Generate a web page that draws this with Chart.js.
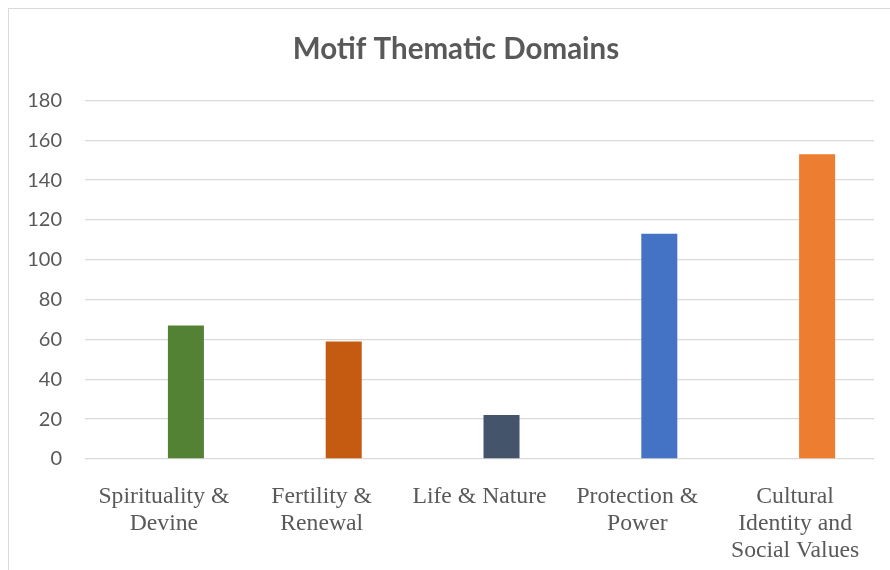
<!DOCTYPE html>
<html lang="en">
<head>
  <meta charset="UTF-8" />
  <title>Motif Thematic Domains</title>
  <script src="https://cdn.jsdelivr.net/npm/chart.js"></script>
  <style>
    body {
      margin: 0;
      background: #ffffff;
      overflow: hidden;
    }

    /* chart area frame, its right and bottom edges run off the page */
    .frame {
      position: absolute;
      left: 8px;
      top: 8px;
      width: 900px;
      height: 600px;
      border: 1px solid #d9d9d9;
    }

    .chart-box {
      position: absolute;
      left: 0;
      top: 0;
      width: 890px;
      height: 594px;
    }
  </style>
</head>
<body>
  <div class="frame"></div>
  <div class="chart-box">
    <canvas id="domainChart"></canvas>
  </div>

  <script>
    const domains = [
      ['Spirituality &', 'Devine'],
      ['Fertility &', 'Renewal'],
      'Life & Nature',
      ['Protection &', 'Power'],
      ['Cultural', 'Identity and', 'Social Values']
    ];
    const motifCounts = [67, 59, 22, 113, 153];
    const emptySeries = [null, null, null, null, null];
    const domainColors = ['#548235', '#c55a11', '#44546a', '#4472c4', '#ed7d31'];
    const yTicks = [0, 20, 40, 60, 80, 100, 120, 140, 160, 180];

    const grey = '#595959';
    const ctx = document.getElementById('domainChart').getContext('2d');

    // centre the title over the framed area rather than the whole canvas
    const titleShift = {
      id: 'titleShift',
      afterLayout(chart) {
        if (chart.titleBlock) chart.titleBlock.left += 38;
      }
    };

    new Chart(ctx, {
      type: 'bar',
      data: {
        labels: domains,
        datasets: [
          // empty first series keeps the bars to the right of each label
          { label: 'Series 1', data: emptySeries },
          {
            label: 'Motifs',
            data: motifCounts,
            backgroundColor: domainColors
          }
        ]
      },
      options: {
        responsive: true,
        maintainAspectRatio: false,
        animation: false,
        categoryPercentage: 0.558,
        barPercentage: 0.818,
        layout: { padding: { left: 0, right: 16, top: 0, bottom: 14 } },
        plugins: {
          legend: { display: false },
          tooltip: { enabled: false },
          title: {
            display: true,
            text: 'Motif Thematic Domains',
            color: grey,
            font: { family: 'Lato', size: 29.5, weight: 'bold', lineHeight: 1.2 },
            padding: { top: 32, bottom: 33 }
          }
        },
        scales: {
          x: {
            grid: { display: false },
            border: { display: false },
            ticks: {
              color: grey,
              padding: 16,
              maxRotation: 0,
              autoSkip: false,
              font: { family: 'Liberation Serif', size: 23.7, lineHeight: 1.14 }
            }
          },
          y: {
            min: 0,
            max: 180,
            afterFit: (scale) => { scale.width = 85; },
            afterBuildTicks: (scale) => {
              scale.ticks = yTicks.map(v => ({ value: v }));
            },
            grid: { color: '#d9d9d9', lineWidth: 1.3, drawTicks: false },
            border: { display: false },
            ticks: {
              color: grey,
              padding: 23,
              font: { family: 'Lato', size: 20 }
            }
          }
        }
      },
      plugins: [titleShift]
    });
  </script>
</body>
</html>
